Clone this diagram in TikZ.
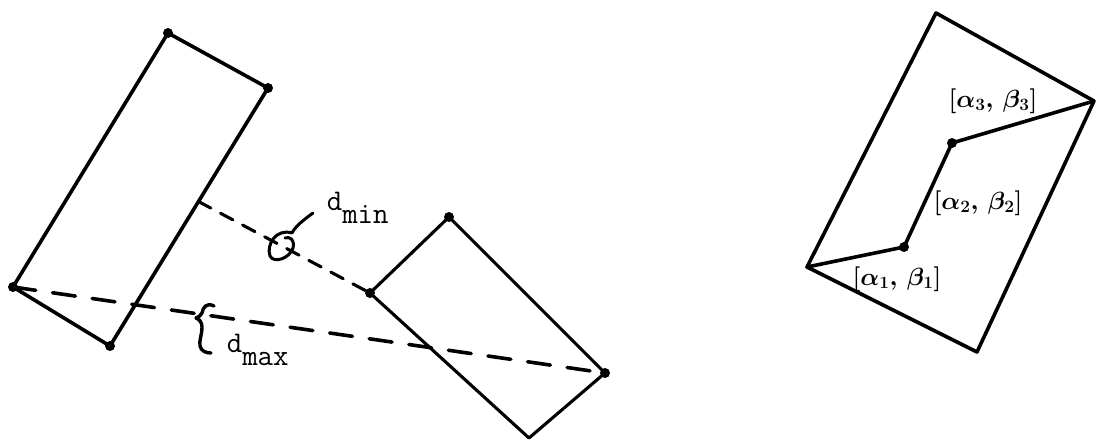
\documentclass[tikz,border=0pt]{standalone}
\usepackage{fontspec}
\usetikzlibrary{calc}
\begin{document}
\begin{tikzpicture}[x=1pt, y=-1pt, line width=3.6pt, line join=round, line cap=round]
    \tikzset{corner/.style={circle, fill, inner sep=0pt, minimum size=10pt},
        pt/.style={inner sep=0pt, minimum size=0pt},
        typed/.style={inner sep=0pt, anchor=base west,
            font=\fontsize{30}{30}\ttfamily},
        hand/.style={inner sep=0pt, font=\fontsize{24}{24}\selectfont\boldmath}}
    \useasboundingbox (0,0) rectangle (1097,444);
    % left rectangle
    \node[corner] (A1) at (168,33) {};
    \node[corner] (A2) at (268,88) {};
    \node[corner] (A3) at (110,346) {};
    \node[corner] (A4) at (13,287) {};
    \draw (A1.center) -- (A2.center) -- (A3.center) -- (A4.center) -- cycle;
    % right rectangle
    \node[corner] (B1) at (449,217) {};
    \node[corner] (B2) at (605,373) {};
    \node[pt] (B3) at (529,438) {};
    \node[corner] (B4) at (370,293) {};
    \draw[line width=3.1pt] (B1.center) -- (B2.center) -- (B3.center)
        -- (B4.center) -- cycle;
    % distances
    \coordinate (foot) at ($(A2)!0.44!(A3)$);
    \draw[line width=3.1pt, dash pattern=on 14pt off 11pt] (foot) -- (B4.center);
    \draw[line width=3.6pt, dash pattern=on 23pt off 17pt] (A4.center) -- (B2.center);
    \draw[line width=3pt] (313,213) .. controls (302,221) and (295,227) .. (292,233)
        .. controls (276,228) and (266,245) .. (270,256)
        .. controls (274,264) and (290,258) .. (293,248)
        .. controls (295,240) and (290,236) .. (285,238);
    \draw[line width=3.4pt] (214,306) .. controls (206,302) and (203,308) .. (202,313)
        .. controls (201,316) and (198,317) .. (196,318)
        .. controls (199,319) and (202,322) .. (202,327)
        .. controls (202,335) and (199,340) .. (200,346)
        .. controls (201,351) and (206,353) .. (211,353);
    \node[typed] (dmin) at (325,210) {d\lower13pt\hbox{min}};
    \node[typed] (dmax) at (225,352) {d\lower13pt\hbox{max}};
    % parallelogram with path
    \node[pt] (C1) at (936,13) {};
    \node[pt] (C2) at (1094,101) {};
    \node[pt] (C3) at (977,352) {};
    \node[pt] (C4) at (807,267) {};
    \draw[line width=3.6pt] (C1.center) -- (C2.center) -- (C3.center)
        -- (C4.center) -- cycle;
    \node[corner] (P1) at (904,247) {};
    \node[corner] (P2) at (952,143) {};
    \draw[line width=3.6pt] (C4.center) -- (P1.center) -- (P2.center) -- (C2.center);
    \node[hand] (lab3) at (993,101) {$[\alpha_3,\,\beta_3]$};
    \node[hand] (lab2) at (978,203) {$[\alpha_2,\,\beta_2]$};
    \node[hand] (lab1) at (897,279) {$[\alpha_1,\,\beta_1]$};
\end{tikzpicture}
\end{document}
